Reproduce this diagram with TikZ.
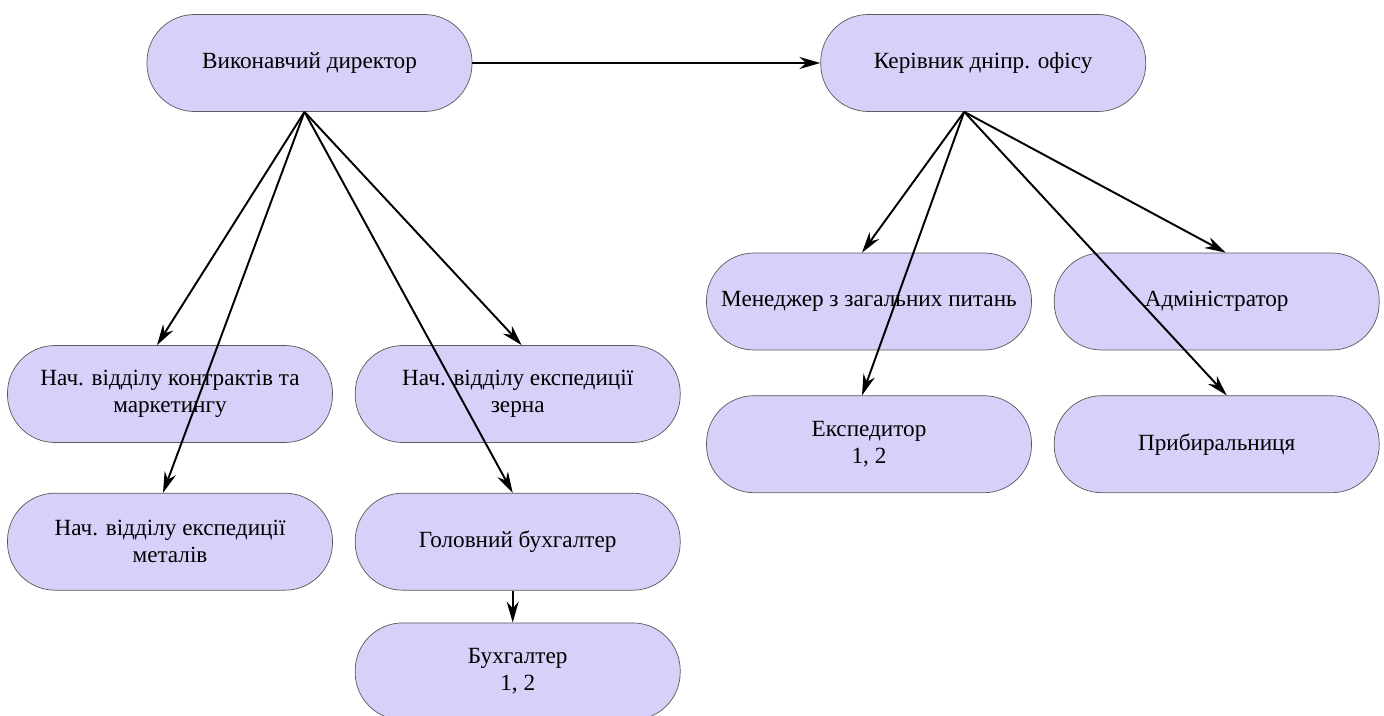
\documentclass[tikz,border=0pt]{standalone}
\usepackage{fontspec}
\setmainfont{Liberation Serif}
\usepackage{xcolor}
\usetikzlibrary{arrows.meta, positioning}
\definecolor{unitfill}{RGB}{213,209,248}

\begin{document}
\begin{tikzpicture}[
    unit/.style={rectangle, draw=black!65, line width=0.4pt, rounded corners=0.95cm, minimum width=6.5cm, minimum height=1.94cm, align=center, fill=unitfill, font=\fontsize{13.2}{15.5}\selectfont},
    arrow/.style={-{Stealth[length=0.42cm, width=0.24cm]}, line width=1.1pt}
]
\useasboundingbox (0,0) rectangle (27.68,-14.32);
\node[unit] (dir) at (6.19,-1.26) {Виконавчий директор};
\node[unit, right=6.96cm of dir] (ker) {Керівник дніпр. офісу};
\node[unit] (contr) at (3.4,-7.88) {Нач. відділу контрактів та\\маркетингу};
\node[unit, right=0.44cm of contr] (zerno) {Нач. відділу експедиції\\зерна};
\node[unit, below=1cm of contr] (metal) {Нач. відділу експедиції\\металів};
\node[unit, below=1cm of zerno] (holov) {Головний бухгалтер};
\node[unit, below=0.64cm of holov] (buh) {Бухгалтер\\1, 2};
\node[unit] (menedzh) at (17.38,-6.03) {Менеджер з загальних питань};
\node[unit, right=0.44cm of menedzh] (admin) {Адміністратор};
\node[unit, below=0.9cm of menedzh] (eksped) {Експедитор\\1, 2};
\node[unit, below=0.9cm of admin] (prybyr) {Прибиральниця};

\draw[arrow] (dir) -- (ker);
\draw[arrow] ([xshift=-0.1cm]dir.south) -- ([xshift=-0.26cm]contr.north);
\draw[arrow] ([xshift=-0.1cm]dir.south) -- ([xshift=-0.14cm]metal.north);
\draw[arrow] ([xshift=-0.1cm]dir.south) -- ([xshift=0.08cm]zerno.north);
\draw[arrow] ([xshift=-0.1cm]dir.south) -- ([xshift=-0.1cm]holov.north);
\draw[arrow] ([xshift=-0.1cm]holov.south) -- ([xshift=-0.1cm]buh.north);
\draw[arrow] ([xshift=-0.38cm]ker.south) -- ([xshift=-0.14cm]menedzh.north);
\draw[arrow] ([xshift=-0.38cm]ker.south) -- ([xshift=-0.14cm]eksped.north);
\draw[arrow] ([xshift=-0.38cm]ker.south) -- ([xshift=0.18cm]admin.north);
\draw[arrow] ([xshift=-0.38cm]ker.south) -- ([xshift=0.2cm]prybyr.north);
\end{tikzpicture}
\end{document}
